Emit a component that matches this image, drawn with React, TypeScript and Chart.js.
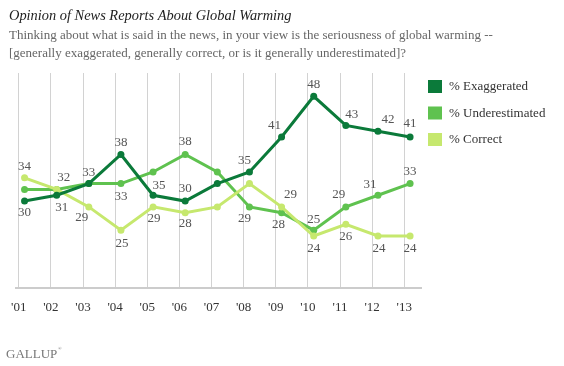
import { useEffect, useRef } from "react";
import { Chart, registerables } from "chart.js";

Chart.register(...registerables);

const years = [2001, 2002, 2003, 2004, 2005, 2006, 2007, 2008, 2009, 2010, 2011, 2012, 2013];
const yearLabels = ["'01", "'02", "'03", "'04", "'05", "'06", "'07", "'08", "'09", "'10", "'11", "'12", "'13"];
const surveyMonthOffset = 0.18; // polls taken in March

const seriesNames = ["% Exaggerated", "% Underestimated", "% Correct"];
const exaggerated = [30, 31, 33, 38, 31, 30, 33, 35, 41, 48, 43, 42, 41];
const underestimated = [32, 32, 33, 33, 35, 38, 35, 29, 28, 25, 29, 31, 33];
const correct = [34, 32, 29, 25, 29, 28, 29, 33, 29, 24, 26, 24, 24];

const colors = ["#0b7a3a", "#5fc24f", "#c6e86e"];

const title = "Opinion of News Reports About Global Warming";
const subtitleLines = [
  "Thinking about what is said in the news, in your view is the seriousness of global warming --",
  "[generally exaggerated, generally correct, or is it generally underestimated]?",
];
const sourceText = "GALLUP";

// label placement per point: [dx, dy] in px, or null for no label
const exaggeratedLabelPos: ([number, number] | null)[] = [
  [0, 12], [5, 12], [0, -11], [0, -12], null, [0, -12], null, [-5, -11], [-7, -11], [0, -12], [6, -11], [10, -12], [0, -13],
];
const underestimatedLabelPos: ([number, number] | null)[] = [
  null, [7, -12], null, [0, 13], [6, 14], [0, -13], null, [-5, 12], [-3, 12], [0, -11], [-7, -12], [-8, -11], [0, -12],
];
const correctLabelPos: ([number, number] | null)[] = [
  [0, -11], null, [-7, 11], [1, 13], [1, 12], [0, 11], null, null, [9, -12], [0, 13], [0, 12], [1, 13], [0, 13],
];

const SERIF = "'Liberation Serif', 'DejaVu Serif', serif";

export default function App() {
  const ref = useRef<HTMLCanvasElement | null>(null);

  useEffect(() => {
    const canvas = ref.current;
    if (!canvas) return;
    const seriesValues = [exaggerated, underestimated, correct];
    const labelPos = [exaggeratedLabelPos, underestimatedLabelPos, correctLabelPos];
    const drawOrder = [0, 2, 1];

    const textPlugin = {
      id: "gallupText",
      afterDatasetsDraw(chart: any) {
        const ctx = chart.ctx;
        ctx.save();
        ctx.font = `13px ${SERIF}`;
        ctx.fillStyle = "#555";
        ctx.textAlign = "center";
        ctx.textBaseline = "middle";
        for (let d = 0; d < 3; d++) {
          const meta = chart.getDatasetMeta(d);
          meta.data.forEach((pt: any, i: number) => {
            const p = labelPos[d][i];
            if (!p) return;
            ctx.fillText(String(seriesValues[d][i]), pt.x + p[0], pt.y + p[1]);
          });
        }
        ctx.restore();
      },
      afterDraw(chart: any) {
        const ctx = chart.ctx;
        ctx.save();
        ctx.textAlign = "left";
        ctx.textBaseline = "alphabetic";
        ctx.fillStyle = "#222";
        ctx.font = `italic 14.4px ${SERIF}`;
        ctx.fillText(title, 9, 20);
        ctx.fillStyle = "#666";
        ctx.font = `13px ${SERIF}`;
        ctx.fillText(subtitleLines[0], 9, 38.5);
        ctx.fillText(subtitleLines[1], 9, 56.5);

        // legend
        ctx.font = `13px ${SERIF}`;
        ctx.textBaseline = "middle";
        for (let i = 0; i < seriesNames.length; i++) {
          const y = 80 + i * 26.5;
          ctx.fillStyle = colors[i];
          ctx.fillRect(428, y, 14, 13);
          ctx.fillStyle = "#333";
          ctx.fillText(seriesNames[i], 449, y + 7);
        }

        // source
        ctx.fillStyle = "#777";
        ctx.font = `13px ${SERIF}`;
        ctx.textBaseline = "alphabetic";
        ctx.fillText(sourceText, 6, 358);
        const w = ctx.measureText(sourceText).width;
        ctx.font = `5px ${SERIF}`;
        ctx.fillText("®", 6 + w + 0.5, 350);
        ctx.restore();
      },
    };

    const chart = new Chart(canvas, {
      type: "line",
      data: {
        datasets: seriesValues.map((vals, d) => ({
          label: seriesNames[d],
          data: vals.map((v, i) => ({ x: years[i] + surveyMonthOffset, y: v })),
          borderColor: colors[d],
          backgroundColor: colors[d],
          borderWidth: 3,
          pointRadius: 3.5,
          pointBackgroundColor: colors[d],
          pointBorderWidth: 0,
          tension: 0,
          order: drawOrder[d],
        })),
      },
      options: {
        animation: false,
        responsive: false,
        layout: { padding: { left: 13, right: 143, top: 73, bottom: 40 } },
        plugins: { legend: { display: false }, tooltip: { enabled: false } },
        scales: {
          x: {
            type: "linear",
            min: 2000.9,
            max: 2013.52,
            afterBuildTicks: (scale: any) => {
              scale.ticks = years.map((y) => ({ value: y }));
            },
            ticks: {
              autoSkip: false,
              maxRotation: 0,
              padding: 11,
              color: "#333",
              font: { family: SERIF, size: 13 },
              callback: (value: any) => {
                const idx = years.indexOf(Math.round(Number(value)));
                return idx >= 0 ? yearLabels[idx] : "";
              },
            },
            grid: { color: "#d2d2d2", lineWidth: 1, drawTicks: false },
            border: { display: true, color: "#cccccc", width: 2 },
          },
          y: {
            display: false,
            min: 15,
            max: 52,
          },
        },
      },
      plugins: [textPlugin],
    });
    return () => chart.destroy();
  }, []);

  return (
    <div style={{ position: "absolute", left: 0, top: 0, width: 564, height: 366, background: "#fff" }}>
      <canvas ref={ref} width={564} height={366} style={{ width: 564, height: 366, display: "block" }} />
    </div>
  );
}
